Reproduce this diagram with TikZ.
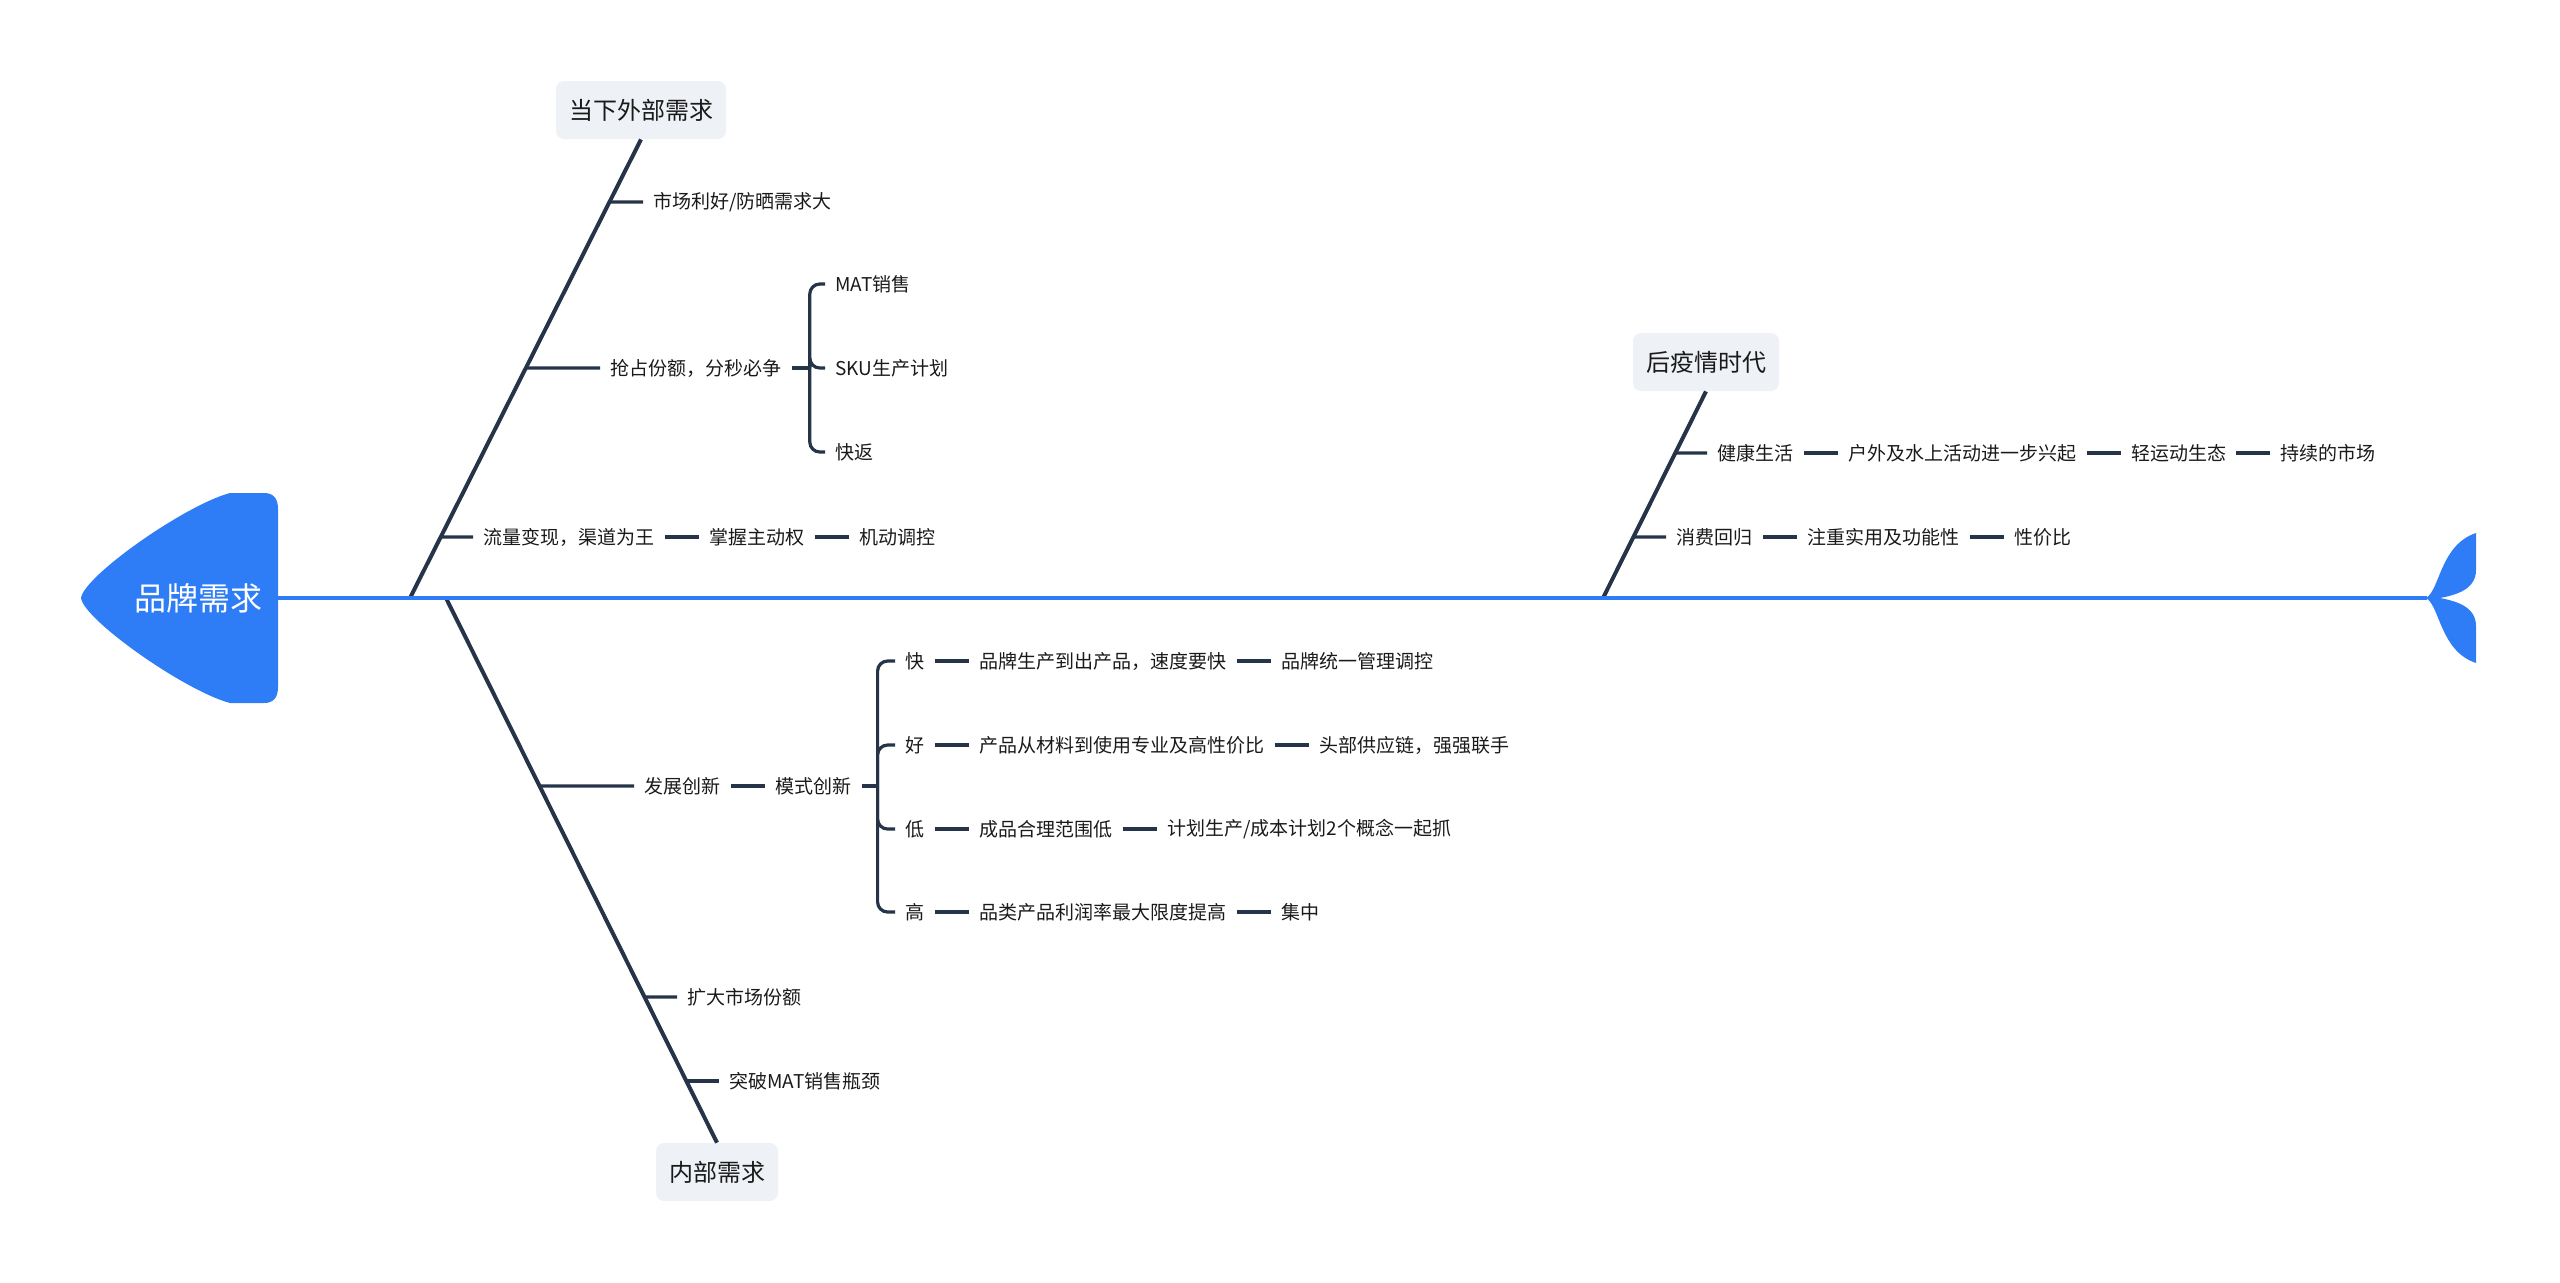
\documentclass[tikz,border=0pt]{standalone}
\usepackage{fontspec}
\setmainfont{Noto Sans CJK SC}
\usetikzlibrary{positioning,calc}
\definecolor{fishBlue}{RGB}{46,124,246}
\definecolor{boneInk}{RGB}{38,52,74}
\definecolor{catFill}{RGB}{238,241,245}
\definecolor{txtInk}{RGB}{26,26,26}
\tikzset{
    cat/.style={rectangle,fill=catFill,rounded corners=4pt,inner xsep=6.5pt,
        minimum height=29pt,font=\fontsize{12}{14}\selectfont,text=txtInk},
    item/.style={anchor=west,inner xsep=5pt,inner ysep=2pt,
        font=\fontsize{9.5}{11}\selectfont,text=txtInk},
    headlbl/.style={text=white,font=\fontsize{16}{18}\selectfont},
    bone/.style={draw=boneInk,line width=2pt},
    twig/.style={draw=boneInk,line width=1.6pt},
    spine/.style={draw=fishBlue,line width=2pt}
}

\begin{document}
\begin{tikzpicture}[x=0.5pt,y=-0.5pt]
    \useasboundingbox (0,0) rectangle (2560,1282);
    % head and tail
    \fill[fishBlue] (278,598) -- (278,509) .. controls (278,499) and (274,493) .. (264,493)
        -- (230,493) .. controls (185,505) and (84,576) .. (81,598)
        .. controls (84,620) and (185,691) .. (230,703) -- (264,703)
        .. controls (274,703) and (278,697) .. (278,687) -- cycle;
    \node[headlbl] (head) at (198,598) {品牌需求};
    \fill[fishBlue] (2426,598) .. controls (2440,590) and (2440,545) .. (2476,533)
        -- (2476,570) .. controls (2476,590) and (2455,595) .. (2440,598)
        .. controls (2455,601) and (2476,606) .. (2476,626)
        -- (2476,663) .. controls (2440,651) and (2440,606) .. (2426,598) -- cycle;
    \coordinate (headR) at (278,598);
    \coordinate (tailL) at (2427,598);
    \coordinate (ext0)  at (410,598);
    \coordinate (int0)  at (446,598);
    \coordinate (post0) at (1603,598);

    % categories
    \node[cat] (ext)  at (641,110)  {当下外部需求};
    \node[cat] (int)  at (717,1172) {内部需求};
    \node[cat] (post) at (1706,362) {后疫情时代};

    % upper left bone
    \node[item] (mkt)   at (643,202) {市场利好/防晒需求大};
    \node[item] (grab)  at (600,368) {抢占份额，分秒必争};
    \node[item] (mat)   at (825,284) {MAT销售};
    \node[item] (sku)   at (825,368) {SKU生产计划};
    \node[item] (fastr) at (825,452) {快返};
    \node[item] (flow)  at (473,537) {流量变现，渠道为王};
    \node[item,right=17pt of flow] (ctrl) {掌握主动权};
    \node[item,right=17pt of ctrl] (mob)  {机动调控};

    % lower left bone
    \node[item] (innov) at (634,786) {发展创新};
    \node[item,right=17pt of innov] (mode) {模式创新};
    \node[item] (qk) at (895,661) {快};
    \node[item,right=17pt of qk]  (qk2) {品牌生产到出产品，速度要快};
    \node[item,right=17pt of qk2] (qk3) {品牌统一管理调控};
    \node[item] (gd) at (895,745) {好};
    \node[item,right=17pt of gd]  (gd2) {产品从材料到使用专业及高性价比};
    \node[item,right=17pt of gd2] (gd3) {头部供应链，强强联手};
    \node[item] (lw) at (895,829) {低};
    \node[item,right=17pt of lw]  (lw2) {成品合理范围低};
    \node[item,right=17pt of lw2] (lw3) {计划生产/成本计划2个概念一起抓};
    \node[item] (hi) at (895,912) {高};
    \node[item,right=17pt of hi]  (hi2) {品类产品利润率最大限度提高};
    \node[item,right=17pt of hi2] (hi3) {集中};
    \node[item] (share) at (677,997)  {扩大市场份额};
    \node[item] (brk)   at (719,1081) {突破MAT销售瓶颈};

    % right bone
    \node[item] (health) at (1707,453) {健康生活};
    \node[item,right=17pt of health] (outd) {户外及水上活动进一步兴起};
    \node[item,right=17pt of outd]   (eco)  {轻运动生态};
    \node[item,right=17pt of eco]    (sust) {持续的市场};
    \node[item] (back) at (1666,537) {消费回归};
    \node[item,right=17pt of back]   (func) {注重实用及功能性};
    \node[item,right=17pt of func]   (val)  {性价比};

    % bones and spine
    \draw[bone] (ext0) -- (ext.south);
    \draw[bone] (int0) -- (int.north);
    \draw[bone] (post0) -- (post.south);
    \draw[spine] (headR) -- (tailL);

    % ticks onto the bones
    \foreach \n in {mkt,grab,flow}
        \draw[twig] (\n.west) -- (intersection of ext0--ext.south and \n.west--\n.east);
    \foreach \n in {innov,share,brk}
        \draw[twig] (\n.west) -- (intersection of int0--int.north and \n.west--\n.east);
    \foreach \n in {health,back}
        \draw[twig] (\n.west) -- (intersection of post0--post.south and \n.west--\n.east);

    % brackets
    \coordinate (j1) at ($(grab.east)+(9pt,0)$);
    \draw[twig] (grab.east) -- (j1);
    \foreach \c in {mat,sku,fastr}
        \draw[twig,rounded corners=5pt] (j1) |- (\c.west);
    \coordinate (j2) at ($(mode.east)+(8pt,0)$);
    \draw[twig] (mode.east) -- (j2);
    \foreach \c in {qk,gd,lw,hi}
        \draw[twig,rounded corners=5pt] (j2) |- (\c.west);

    % chains
    \foreach \a/\b in {flow/ctrl,ctrl/mob,innov/mode,qk/qk2,qk2/qk3,gd/gd2,gd2/gd3,
        lw/lw2,lw2/lw3,hi/hi2,hi2/hi3,health/outd,outd/eco,eco/sust,back/func,func/val}
        \draw[twig] (\a) -- (\b);
\end{tikzpicture}
\end{document}
